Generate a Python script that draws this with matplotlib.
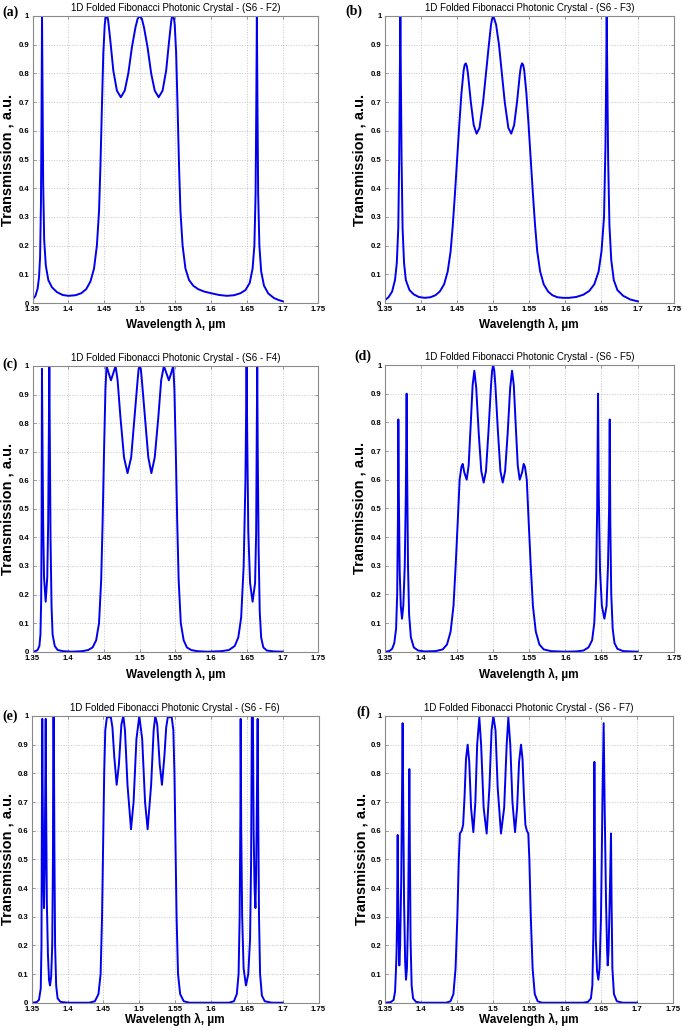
import numpy as np
import matplotlib
matplotlib.use('Agg')
import matplotlib.pyplot as plt

# transmission spectra: (wavelength um, transmission)
spec_a = [(1.350, 0.012), (1.354, 0.025), (1.357, 0.05), (1.359, 0.09), (1.3605, 0.16), (1.3617, 0.35),
          (1.3625, 0.65), (1.3632, 1.0), (1.3639, 0.75), (1.3648, 0.42), (1.3662, 0.22), (1.3685, 0.13),
          (1.372, 0.08), (1.377, 0.055), (1.384, 0.038), (1.392, 0.028), (1.400, 0.025), (1.410, 0.027),
          (1.418, 0.034), (1.425, 0.048), (1.431, 0.075), (1.436, 0.12), (1.440, 0.2), (1.443, 0.32),
          (1.445, 0.48), (1.447, 0.68), (1.449, 0.87), (1.451, 0.97), (1.452, 0.99), (1.4535, 1.0),
          (1.455, 0.995), (1.456, 0.98), (1.459, 0.91), (1.463, 0.81), (1.468, 0.74), (1.4735, 0.717),
          (1.479, 0.74), (1.484, 0.8), (1.489, 0.89), (1.494, 0.96), (1.497, 0.99), (1.500, 1.0),
          (1.503, 0.99), (1.506, 0.96), (1.511, 0.89), (1.516, 0.8), (1.521, 0.74), (1.5265, 0.717),
          (1.532, 0.74), (1.537, 0.81), (1.541, 0.91), (1.544, 0.98), (1.545, 0.995), (1.5465, 1.0),
          (1.548, 0.99), (1.549, 0.97), (1.551, 0.87), (1.553, 0.68), (1.555, 0.48), (1.557, 0.32),
          (1.560, 0.2), (1.564, 0.12), (1.569, 0.08), (1.575, 0.06), (1.582, 0.048), (1.590, 0.04),
          (1.600, 0.034), (1.611, 0.028), (1.622, 0.025), (1.632, 0.027), (1.641, 0.034), (1.648, 0.045),
          (1.654, 0.07), (1.658, 0.12), (1.6605, 0.2), (1.6622, 0.38), (1.6632, 0.7), (1.6640, 1.0),
          (1.6648, 0.7), (1.6658, 0.38), (1.6675, 0.2), (1.670, 0.11), (1.674, 0.06), (1.680, 0.033),
          (1.688, 0.017), (1.695, 0.01), (1.700, 0.006)]

spec_b = [(1.350, 0.01), (1.355, 0.02), (1.360, 0.04), (1.364, 0.08), (1.3665, 0.14), (1.3685, 0.26),
          (1.3698, 0.5), (1.3707, 0.8), (1.3714, 1.0), (1.3721, 0.8), (1.3731, 0.5), (1.3745, 0.26),
          (1.3765, 0.14), (1.379, 0.08), (1.384, 0.045), (1.390, 0.03), (1.397, 0.021), (1.405, 0.018),
          (1.413, 0.02), (1.420, 0.027), (1.426, 0.04), (1.432, 0.065), (1.437, 0.11), (1.441, 0.18),
          (1.444, 0.27), (1.447, 0.38), (1.450, 0.5), (1.453, 0.62), (1.456, 0.73), (1.459, 0.81),
          (1.4605, 0.83), (1.462, 0.835), (1.4635, 0.825), (1.465, 0.8), (1.469, 0.7), (1.473, 0.62),
          (1.477, 0.59), (1.481, 0.61), (1.486, 0.7), (1.490, 0.8), (1.494, 0.9), (1.497, 0.97),
          (1.4985, 0.99), (1.500, 1.0), (1.5015, 0.99), (1.504, 0.97), (1.508, 0.9), (1.512, 0.8),
          (1.516, 0.7), (1.521, 0.61), (1.525, 0.59), (1.529, 0.62), (1.533, 0.7), (1.537, 0.8),
          (1.5385, 0.825), (1.540, 0.835), (1.5415, 0.83), (1.543, 0.81), (1.546, 0.73), (1.549, 0.62),
          (1.552, 0.5), (1.555, 0.38), (1.558, 0.27), (1.561, 0.18), (1.565, 0.11), (1.570, 0.065),
          (1.576, 0.04), (1.582, 0.027), (1.589, 0.02), (1.597, 0.018), (1.605, 0.018), (1.615, 0.021),
          (1.625, 0.029), (1.633, 0.042), (1.640, 0.065), (1.646, 0.11), (1.650, 0.18), (1.6535, 0.3),
          (1.6555, 0.55), (1.6565, 0.8), (1.6572, 1.0), (1.6580, 0.8), (1.6592, 0.5), (1.661, 0.27),
          (1.6635, 0.15), (1.667, 0.08), (1.672, 0.045), (1.680, 0.025), (1.690, 0.012), (1.700, 0.006)]

spec_c = [(1.350, 0.0), (1.354, 0.002), (1.357, 0.006), (1.3595, 0.02), (1.361, 0.06), (1.362, 0.18),
          (1.3626, 0.45), (1.3631, 0.99), (1.3638, 0.75), (1.3648, 0.45), (1.366, 0.26), (1.3683, 0.175),
          (1.3705, 0.26), (1.3718, 0.45), (1.3727, 0.75), (1.3734, 1.0), (1.3741, 0.75), (1.3751, 0.4),
          (1.3765, 0.16), (1.378, 0.06), (1.381, 0.02), (1.385, 0.006), (1.392, 0.002), (1.405, 0.0),
          (1.420, 0.002), (1.428, 0.006), (1.434, 0.015), (1.439, 0.04), (1.443, 0.1), (1.446, 0.25),
          (1.448, 0.45), (1.450, 0.7), (1.452, 0.92), (1.4535, 1.0), (1.4565, 0.975), (1.4597, 0.95),
          (1.463, 0.975), (1.4662, 1.0), (1.469, 0.95), (1.473, 0.82), (1.478, 0.68), (1.4829, 0.625),
          (1.488, 0.68), (1.493, 0.83), (1.497, 0.95), (1.4985, 0.99), (1.500, 1.0), (1.5015, 0.99),
          (1.503, 0.95), (1.507, 0.83), (1.512, 0.68), (1.5163, 0.625), (1.521, 0.68), (1.526, 0.82),
          (1.530, 0.95), (1.5338, 1.0), (1.5373, 0.975), (1.5408, 0.95), (1.544, 0.975), (1.5469, 1.0),
          (1.5485, 0.92), (1.5505, 0.7), (1.5525, 0.45), (1.5545, 0.25), (1.5575, 0.1), (1.5615, 0.04),
          (1.566, 0.015), (1.572, 0.006), (1.580, 0.002), (1.595, 0.0), (1.615, 0.002), (1.625, 0.006),
          (1.633, 0.02), (1.638, 0.05), (1.642, 0.12), (1.6455, 0.3), (1.648, 0.6), (1.6496, 1.0),
          (1.6505, 0.75), (1.652, 0.42), (1.6545, 0.24), (1.658, 0.175), (1.6615, 0.24), (1.663, 0.42),
          (1.6638, 0.75), (1.6645, 1.0), (1.6652, 0.7), (1.6665, 0.35), (1.668, 0.14), (1.670, 0.05),
          (1.673, 0.015), (1.678, 0.004), (1.688, 0.001), (1.700, 0.0)]

spec_d = [(1.350, 0.0), (1.356, 0.002), (1.360, 0.01), (1.363, 0.03), (1.3655, 0.08), (1.367, 0.2),
          (1.368, 0.45), (1.3686, 0.81), (1.3693, 0.55), (1.3705, 0.28), (1.372, 0.16), (1.3737, 0.115),
          (1.3755, 0.16), (1.3775, 0.3), (1.379, 0.55), (1.3801, 0.9), (1.3809, 0.6), (1.382, 0.3),
          (1.3835, 0.13), (1.386, 0.05), (1.390, 0.015), (1.396, 0.004), (1.405, 0.001), (1.420, 0.002),
          (1.430, 0.008), (1.436, 0.025), (1.441, 0.07), (1.445, 0.16), (1.448, 0.3), (1.451, 0.46),
          (1.4535, 0.6), (1.456, 0.645), (1.4578, 0.655), (1.460, 0.625), (1.4633, 0.6), (1.466, 0.65),
          (1.469, 0.8), (1.4715, 0.93), (1.4739, 0.98), (1.4765, 0.92), (1.480, 0.76), (1.4835, 0.63),
          (1.4868, 0.59), (1.490, 0.63), (1.4935, 0.77), (1.497, 0.93), (1.4985, 0.98), (1.500, 1.0),
          (1.5015, 0.98), (1.503, 0.93), (1.5065, 0.77), (1.510, 0.63), (1.5132, 0.59), (1.5165, 0.63),
          (1.520, 0.76), (1.5235, 0.92), (1.5261, 0.98), (1.5285, 0.93), (1.531, 0.8), (1.534, 0.65),
          (1.5367, 0.6), (1.540, 0.625), (1.5422, 0.655), (1.544, 0.645), (1.5465, 0.6), (1.549, 0.46),
          (1.552, 0.3), (1.555, 0.16), (1.559, 0.07), (1.564, 0.025), (1.570, 0.008), (1.580, 0.002),
          (1.600, 0.0), (1.615, 0.001), (1.625, 0.004), (1.632, 0.015), (1.637, 0.04), (1.640, 0.1),
          (1.6425, 0.25), (1.644, 0.5), (1.6452, 0.9), (1.6462, 0.55), (1.648, 0.28), (1.6505, 0.16),
          (1.654, 0.115), (1.657, 0.16), (1.659, 0.3), (1.6605, 0.5), (1.6614, 0.81), (1.6622, 0.45),
          (1.6635, 0.2), (1.6655, 0.08), (1.668, 0.03), (1.672, 0.01), (1.680, 0.002), (1.700, 0.0)]

spec_e = [(1.350, 0.0), (1.357, 0.002), (1.360, 0.01), (1.3625, 0.05), (1.3635, 0.2), (1.364, 0.6),
          (1.3646, 0.99), (1.3652, 0.75), (1.366, 0.45), (1.367, 0.33), (1.368, 0.48), (1.3688, 0.75),
          (1.3694, 0.99), (1.370, 0.7), (1.371, 0.35), (1.3725, 0.17), (1.374, 0.08), (1.3754, 0.06),
          (1.377, 0.09), (1.3785, 0.2), (1.3795, 0.5), (1.380, 1.0), (1.3807, 1.0), (1.3815, 0.55),
          (1.3825, 0.2), (1.384, 0.06), (1.386, 0.015), (1.390, 0.003), (1.400, 0.0), (1.430, 0.0),
          (1.438, 0.005), (1.443, 0.03), (1.446, 0.1), (1.448, 0.3), (1.4495, 0.55), (1.451, 0.8),
          (1.4525, 0.95), (1.455, 1.0), (1.4575, 0.995), (1.460, 1.0), (1.4625, 0.96), (1.465, 0.86),
          (1.4684, 0.76), (1.4715, 0.83), (1.475, 0.97), (1.4777, 1.0), (1.480, 0.95), (1.4835, 0.76),
          (1.4884, 0.605), (1.492, 0.7), (1.496, 0.92), (1.500, 1.0), (1.504, 0.92), (1.508, 0.7),
          (1.5116, 0.605), (1.5165, 0.76), (1.520, 0.95), (1.5223, 1.0), (1.525, 0.97), (1.5285, 0.83),
          (1.5316, 0.76), (1.535, 0.86), (1.5375, 0.96), (1.540, 1.0), (1.5425, 0.995), (1.545, 1.0),
          (1.5475, 0.95), (1.549, 0.8), (1.5505, 0.55), (1.552, 0.3), (1.554, 0.1), (1.557, 0.03),
          (1.562, 0.005), (1.570, 0.0), (1.625, 0.0), (1.632, 0.005), (1.636, 0.03), (1.6385, 0.1),
          (1.640, 0.3), (1.641, 0.65), (1.6414, 0.99), (1.6422, 0.6), (1.6435, 0.3), (1.6455, 0.12),
          (1.6488, 0.06), (1.652, 0.1), (1.6545, 0.22), (1.656, 0.5), (1.657, 1.0), (1.6585, 1.0),
          (1.6595, 0.6), (1.6608, 0.4), (1.662, 0.33), (1.663, 0.45), (1.6642, 0.75), (1.6651, 0.99),
          (1.6658, 0.7), (1.667, 0.3), (1.6685, 0.1), (1.671, 0.025), (1.675, 0.005), (1.685, 0.0),
          (1.700, 0.0)]

spec_f = [(1.350, 0.0), (1.358, 0.002), (1.362, 0.01), (1.364, 0.04), (1.365, 0.1), (1.366, 0.17),
          (1.3668, 0.3), (1.3673, 0.5), (1.3676, 0.585), (1.3682, 0.4), (1.369, 0.22), (1.3699, 0.13),
          (1.371, 0.2), (1.3725, 0.42), (1.3737, 0.75), (1.3745, 0.975), (1.3753, 0.7), (1.3765, 0.35),
          (1.378, 0.14), (1.3792, 0.08), (1.3805, 0.12), (1.382, 0.3), (1.3832, 0.6), (1.3838, 0.815),
          (1.3845, 0.55), (1.3855, 0.22), (1.387, 0.06), (1.389, 0.015), (1.393, 0.003), (1.400, 0.0),
          (1.435, 0.0), (1.441, 0.005), (1.445, 0.03), (1.448, 0.12), (1.4505, 0.3), (1.4525, 0.5),
          (1.454, 0.59), (1.4565, 0.6), (1.4585, 0.62), (1.4605, 0.72), (1.4625, 0.85), (1.4648, 0.9),
          (1.467, 0.84), (1.4695, 0.68), (1.4727, 0.595), (1.4755, 0.7), (1.478, 0.9), (1.481, 0.995),
          (1.4835, 0.9), (1.487, 0.68), (1.4912, 0.59), (1.495, 0.75), (1.498, 0.95), (1.5005, 1.0),
          (1.5035, 0.95), (1.5065, 0.75), (1.5111, 0.59), (1.5155, 0.68), (1.519, 0.9), (1.5213, 0.995),
          (1.524, 0.9), (1.527, 0.7), (1.5306, 0.595), (1.5335, 0.68), (1.5362, 0.84), (1.5389, 0.9),
          (1.541, 0.85), (1.543, 0.72), (1.545, 0.62), (1.547, 0.6), (1.549, 0.59), (1.5505, 0.5),
          (1.5525, 0.3), (1.555, 0.12), (1.558, 0.03), (1.562, 0.005), (1.568, 0.0), (1.625, 0.0),
          (1.632, 0.003), (1.636, 0.015), (1.638, 0.06), (1.6395, 0.25), (1.6403, 0.55), (1.6408, 0.84),
          (1.6415, 0.55), (1.6428, 0.22), (1.6445, 0.11), (1.6463, 0.08), (1.648, 0.12), (1.650, 0.3),
          (1.652, 0.7), (1.6537, 0.975), (1.655, 0.7), (1.657, 0.35), (1.6585, 0.18), (1.6593, 0.13),
          (1.6605, 0.18), (1.662, 0.35), (1.6632, 0.5), (1.6639, 0.59), (1.6647, 0.35), (1.6658, 0.12),
          (1.668, 0.03), (1.672, 0.005), (1.680, 0.0), (1.700, 0.0)]

panel_tags = ['(a)', '(b)', '(c)', '(d)', '(e)', '(f)']
structures = ['F2', 'F3', 'F4', 'F5', 'F6', 'F7']
spectra = [spec_a, spec_b, spec_c, spec_d, spec_e, spec_f]

xticks = [1.35, 1.4, 1.45, 1.5, 1.55, 1.6, 1.65, 1.7, 1.75]
xticklabels = ['1.35', '1.4', '1.45', '1.5', '1.55', '1.6', '1.65', '1.7', '1.75']
yticks = [0, 0.1, 0.2, 0.3, 0.4, 0.5, 0.6, 0.7, 0.8, 0.9, 1]
yticklabels = ['0', '0.1', '0.2', '0.3', '0.4', '0.5', '0.6', '0.7', '0.8', '0.9', '1']

W, H = 682, 1030
# axes boxes in pixels: left, right, top, bottom
boxes = [(32.6, 318.3, 16, 303), (384.9, 673.7, 16, 303),
         (32.6, 318.3, 366, 651.7), (384.9, 673.7, 365, 651.7),
         (31.8, 318.5, 716, 1002.7), (385, 673, 716, 1002.7)]
# panel letter positions (pixels, left / vertical centre)
tag_pos = [(2, 12), (345, 11), (2, 364), (354, 356), (2, 716), (356, 712)]
# gap (pixels) from axes bottom to top of the x label
xlab_gap = [15, 15, 16, 16, 10, 10]
# x position (pixels) of the right edge of the rotated y label
ylab_edge = [15, 367, 15, 367, 15, 368]

plt.rcParams['font.family'] = ['Liberation Sans', 'DejaVu Sans']
fig = plt.figure(figsize=(W / 100, H / 100), dpi=100)
fig.patch.set_facecolor('white')

frame = '#8a8a8a'
for i in range(6):
    l, r, t, b = boxes[i]
    ax = fig.add_axes([l / W, (H - b) / H, (r - l) / W, (b - t) / H])
    lam, tr = np.array(spectra[i]).T
    ax.plot(lam, tr, color='#0000ee', lw=1.4, solid_joinstyle='round')
    ax.set_xlim(1.35, 1.75)
    ax.set_ylim(0, 1)
    ax.set_xticks(xticks)
    ax.set_xticklabels(xticklabels)
    ax.set_yticks(yticks)
    ax.set_yticklabels(yticklabels)
    ax.grid(True, color='#c4c4c4', ls=':', lw=0.7)
    for s in ax.spines.values():
        s.set_color(frame)
        s.set_linewidth(0.8)
    ax.tick_params(direction='in', length=2.5, width=0.6, color=frame,
                   top=True, right=True, labelsize=5.6, pad=2.5)
    for lab in ax.get_xticklabels() + ax.get_yticklabels():
        lab.set_fontweight('bold')
    ax.set_title('1D Folded Fibonacci Photonic Crystal - (S6 - %s)' % structures[i],
                 fontsize=7, pad=3.5)
    ax.set_xlabel('Wavelength λ, µm', fontsize=8.5, fontweight='bold')
    ax.set_ylabel('Transmission , a.u.', fontsize=10.5, fontweight='bold')
    ax.xaxis.set_label_coords(0.5, -xlab_gap[i] / (b - t))
    ax.yaxis.set_label_coords((ylab_edge[i] - l) / (r - l), 0.5)
    tx, ty = tag_pos[i]
    fig.text(tx / W, 1 - ty / H, panel_tags[i], family='Liberation Serif',
             fontweight='bold', fontsize=10, ha='left', va='center')

fig.savefig('out.png', dpi=100)
